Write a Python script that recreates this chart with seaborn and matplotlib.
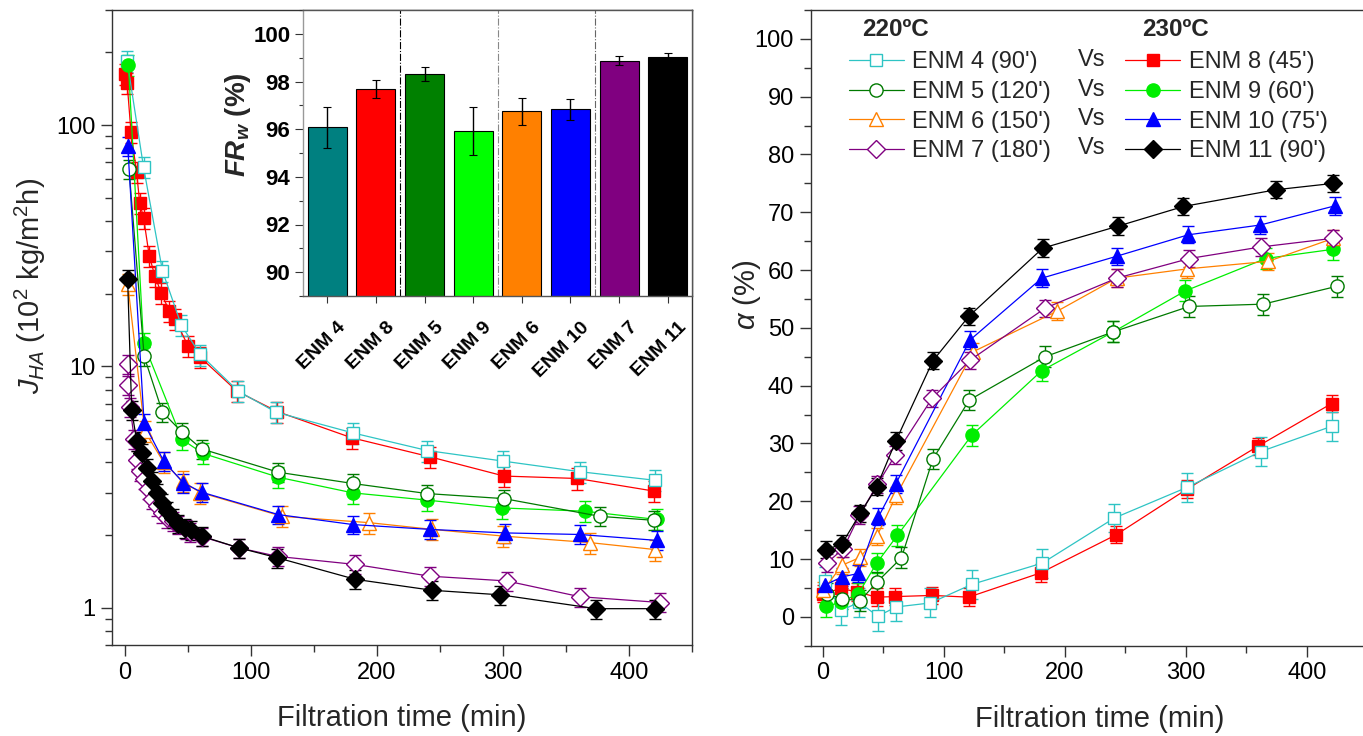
import numpy as np
import pandas as pd
import matplotlib
matplotlib.use("Agg")
import matplotlib.pyplot as plt
import matplotlib.ticker as mticker
from matplotlib.lines import Line2D
from matplotlib.transforms import ScaledTranslation
import seaborn as sns

# ---------------- flux J_HA (10^2 kg/m2h) vs filtration time ----------------
t_j_enm4 = [2, 15, 30, 45, 60, 90, 120, 181, 240, 300, 361, 421]
j_enm4 = [185, 67, 24.9, 14.8, 11.2, 7.9, 6.46, 5.3, 4.48, 4.05, 3.66, 3.37]

t_j_enm8 = [0, 2, 5, 9.5, 12, 15, 19.5, 24, 29, 35.5, 40, 50.5, 60, 89, 121, 180, 242, 301, 359, 420]
j_enm8 = [163, 150, 94, 63.7, 47.5, 41.4, 28.8, 23.7, 20.2, 16.9, 15.7, 12.1, 10.9, 7.9, 6.5,
          5.06, 4.22, 3.51, 3.43, 3.04]

t_j_enm5 = [3.5, 15.5, 30, 45.5, 61, 122, 181, 240, 301, 377, 420]
j_enm5 = [65.7, 11.0, 6.46, 5.34, 4.55, 3.64, 3.27, 2.97, 2.83, 2.39, 2.30]

t_j_enm9 = [3, 15, 45.5, 62, 122, 181, 240, 299, 365, 422]
j_enm9 = [177, 12.5, 4.98, 4.36, 3.47, 2.99, 2.79, 2.59, 2.51, 2.32]

t_j_enm6 = [2.5, 16, 31, 46, 60, 125, 194, 244, 300, 369, 421]
j_enm6 = [21.9, 5.39, 4.0, 3.34, 3.0, 2.39, 2.25, 2.11, 1.98, 1.86, 1.74]

t_j_enm10 = [2.5, 15.5, 31, 46.5, 61, 122, 181, 242, 302, 361, 422]
j_enm10 = [82, 5.8, 4.05, 3.29, 3.01, 2.43, 2.21, 2.11, 2.04, 2.01, 1.90]

t_j_enm7 = [2.4, 3, 4.3, 7.7, 9.6, 12.2, 15, 18.3, 21.5, 25.5, 29.5, 33.4, 38, 42.7, 48.5, 52,
            61, 90.5, 121.5, 183, 242, 303, 361, 425]
j_enm7 = [10.2, 8.4, 6.8, 4.98, 4.11, 3.68, 3.4, 3.09, 2.81, 2.63, 2.47, 2.36, 2.28, 2.21, 2.11,
          2.05, 1.97, 1.77, 1.63, 1.51, 1.35, 1.29, 1.11, 1.05]

t_j_enm11 = [2.4, 5.6, 9.6, 13.5, 17.6, 21.5, 25.5, 29.4, 33.4, 38, 42.7, 47.5, 52.8, 61, 90.5,
             121, 183, 244, 298, 374, 421]
j_enm11 = [23, 6.6, 4.9, 4.36, 3.8, 3.34, 2.99, 2.72, 2.51, 2.36, 2.23, 2.14, 2.09, 1.98, 1.77,
           1.61, 1.31, 1.18, 1.13, 0.99, 0.99]

# relative standard deviation of the flux measurements
j_rel_err = {"ENM 4": 0.10, "ENM 8": 0.10, "ENM 5": 0.09, "ENM 9": 0.10,
             "ENM 6": 0.10, "ENM 10": 0.09, "ENM 7": 0.09, "ENM 11": 0.09}

# ---------------- HA rejection alpha (%) vs filtration time ----------------
t_a_enm4 = [2, 15, 30, 45.5, 60.5, 89, 123, 181.5, 241, 301, 362, 421]
a_enm4 = [6.2, 1.1, 2.5, 0.1, 1.7, 2.4, 5.6, 9.3, 17.1, 22.4, 28.6, 33.0]

t_a_enm8 = [0.5, 15, 28.5, 44.5, 60, 90.5, 120.5, 180, 242.5, 301, 359.5, 420.5]
a_enm8 = [4.0, 4.9, 4.3, 3.4, 3.5, 3.7, 3.4, 7.6, 14.2, 22.1, 29.5, 36.9]

t_a_enm5 = [3.3, 15.7, 31, 44.7, 65, 91, 121, 183.7, 240, 302.7, 364, 425]
a_enm5 = [4.0, 3.1, 2.8, 6.0, 10.2, 27.3, 37.5, 45.0, 49.3, 53.7, 54.1, 57.2]

t_a_enm9 = [2.7, 14.7, 29.4, 44.6, 61.7, 123, 181, 240, 299.7, 366, 422]
a_enm9 = [1.8, 2.5, 4.0, 9.3, 14.1, 31.4, 42.6, 49.3, 56.4, 62.0, 63.6]

t_a_enm6 = [0.5, 15.7, 31, 44.6, 60.7, 124.5, 193.9, 243, 300.8, 368, 422]
a_enm6 = [4.6, 8.9, 10.3, 13.9, 21.0, 45.9, 52.9, 58.6, 60.2, 61.5, 65.5]

t_a_enm10 = [2, 15.7, 29.4, 46, 60.3, 121.7, 181, 243, 302, 361.7, 423]
a_enm10 = [5.5, 6.9, 7.5, 17.3, 23.0, 47.9, 58.6, 62.4, 66.1, 67.8, 71.1]

t_a_enm7 = [3.3, 17, 30.3, 45.1, 60, 90.3, 121.7, 183.7, 243, 303, 362, 422]
a_enm7 = [9.3, 11.8, 17.6, 22.9, 28.0, 37.8, 44.4, 53.4, 58.6, 62.0, 64.0, 65.5]

t_a_enm11 = [2.7, 15.7, 31, 44.6, 60.3, 91, 120.7, 181.8, 244, 298, 374.6, 422]
a_enm11 = [11.6, 12.6, 17.9, 22.5, 30.4, 44.3, 52.0, 63.8, 67.6, 71.0, 73.9, 75.0]

a_err = {"ENM 4": 2.5, "ENM 8": 1.5, "ENM 5": 1.8, "ENM 9": 1.8,
         "ENM 6": 1.5, "ENM 10": 1.5, "ENM 7": 1.5, "ENM 11": 1.5}

# ---------------- flux recovery ratio FRw (%) ----------------
bar_labels = ["ENM 4", "ENM 8", "ENM 5", "ENM 9", "ENM 6", "ENM 10", "ENM 7", "ENM 11"]
frw = [96.08, 97.69, 98.32, 95.93, 96.75, 96.83, 98.88, 99.02]
frw_err = [0.85, 0.37, 0.28, 1.0, 0.57, 0.45, 0.18, 0.18]
bar_colors = ["#008080", "#FF0000", "#008000", "#00FF00", "#FF8000", "#0000FF", "#800080", "#000000"]

legend_220 = ["ENM 4 (90')", "ENM 5 (120')", "ENM 6 (150')", "ENM 7 (180')"]
legend_230 = ["ENM 8 (45')", "ENM 9 (60')", "ENM 10 (75')", "ENM 11 (90')"]

# series styles, in drawing order
series = [
    dict(name="ENM 8", color="#FF0000", marker="s", filled=True, ms=8.5,
         tj=t_j_enm8, j=j_enm8, ta=t_a_enm8, a=a_enm8),
    dict(name="ENM 4", color="#2EC4C4", marker="s", filled=False, ms=8.5,
         tj=t_j_enm4, j=j_enm4, ta=t_a_enm4, a=a_enm4),
    dict(name="ENM 9", color="#00EE00", marker="o", filled=True, ms=9.5,
         tj=t_j_enm9, j=j_enm9, ta=t_a_enm9, a=a_enm9),
    dict(name="ENM 5", color="#007A00", marker="o", filled=False, ms=9.5,
         tj=t_j_enm5, j=j_enm5, ta=t_a_enm5, a=a_enm5),
    dict(name="ENM 6", color="#FF8000", marker="^", filled=False, ms=10,
         tj=t_j_enm6, j=j_enm6, ta=t_a_enm6, a=a_enm6),
    dict(name="ENM 10", color="#0000FF", marker="^", filled=True, ms=10,
         tj=t_j_enm10, j=j_enm10, ta=t_a_enm10, a=a_enm10),
    dict(name="ENM 7", color="#800080", marker="D", filled=False, ms=9,
         tj=t_j_enm7, j=j_enm7, ta=t_a_enm7, a=a_enm7),
    dict(name="ENM 11", color="#000000", marker="D", filled=True, ms=9,
         tj=t_j_enm11, j=j_enm11, ta=t_a_enm11, a=a_enm11),
]
style = {s["name"]: s for s in series}

sns.set_theme(style="ticks")
plt.rcParams.update({
    "font.family": ["Liberation Sans", "DejaVu Sans"],
    "mathtext.fontset": "custom",
    "mathtext.rm": "Liberation Sans",
    "mathtext.it": "Liberation Sans:italic",
    "mathtext.bf": "Liberation Sans:bold",
    "mathtext.bfit": "Liberation Sans:bold:italic",
    "axes.edgecolor": "#333333",
    "axes.linewidth": 1.0,
    "xtick.color": "#333333",
    "ytick.color": "#333333",
    "xtick.labelcolor": "black",
    "ytick.labelcolor": "black",
    "xtick.direction": "out",
    "ytick.direction": "out",
})

W, H = 1363, 736
fig = plt.figure(figsize=(W / 100, H / 100), dpi=100)
fig.patch.set_facecolor("white")

TICK_FS = 17
LABEL_FS = 21


def style_axis(ax):
    ax.tick_params(which="major", length=8, width=1.0, labelsize=TICK_FS, pad=4)
    ax.tick_params(which="minor", length=5, width=1.0)
    ax.tick_params(top=False, right=False, which="both")
    for sp in ax.spines.values():
        sp.set_visible(True)
        sp.set_linewidth(1.0)
        sp.set_color("#333333")


def place_labels(ax, xcoords, ycoords):
    ax.xaxis.label.set_va("center")
    ax.yaxis.label.set_va("center")
    ax.xaxis.set_label_coords(*xcoords)
    ax.yaxis.set_label_coords(*ycoords)


def draw_series(ax, s, x, y, yerr):
    mfc = s["color"] if s["filled"] else "white"
    ax.errorbar(x, y, yerr=yerr, fmt="none", ecolor=s["color"], elinewidth=1.0,
                capsize=4.5, capthick=1.0, zorder=2)
    sns.lineplot(x=x, y=y, ax=ax, color=s["color"], linewidth=0.9, marker=s["marker"],
                 markersize=s["ms"], markerfacecolor=mfc, markeredgecolor=s["color"],
                 markeredgewidth=1.0, estimator=None, sort=False, legend=False, zorder=3)


# ---------------- left panel: flux ----------------
ax1 = fig.add_axes([112 / W, (H - 645) / H, 580 / W, 635 / H])
for s in series:
    j = np.asarray(s["j"], dtype=float)
    rel = j_rel_err[s["name"]]
    draw_series(ax1, s, s["tj"], j, rel * j)
ax1.set_yscale("log")
ax1.set_xlim(-10, 450)
ax1.set_ylim(0.7, 300)
ax1.xaxis.set_major_locator(mticker.MultipleLocator(100))
ax1.xaxis.set_minor_locator(mticker.MultipleLocator(50))
ax1.yaxis.set_major_locator(mticker.FixedLocator([1, 10, 100]))
ax1.yaxis.set_major_formatter(mticker.FuncFormatter(lambda v, p: f"{v:g}"))
ax1.yaxis.set_minor_locator(mticker.LogLocator(base=10, subs=np.arange(2, 10)))
ax1.yaxis.set_minor_formatter(mticker.NullFormatter())
style_axis(ax1)
ax1.set_xlabel("Filtration time (min)", fontsize=LABEL_FS)
ax1.set_ylabel(r"$J_{HA}$ (10$^{2}$ kg/m$^{2}$h)", fontsize=LABEL_FS)
place_labels(ax1, (0.5, -0.115), (-0.141, 0.565))

# ---------------- inset: flux recovery ----------------
axin = fig.add_axes([303 / W, (H - 296) / H, 389 / W, 286 / H])
axin.set_facecolor("white")
bar_df = pd.DataFrame({"membrane": bar_labels, "frw": frw})
sns.barplot(data=bar_df, x="membrane", y="frw", hue="membrane", palette=bar_colors,
            saturation=1, legend=False, width=0.8, edgecolor="black", linewidth=0.8,
            errorbar=None, ax=axin, zorder=2)
axin.errorbar(np.arange(len(frw)), frw, yerr=frw_err, fmt="none", ecolor="black",
              elinewidth=1.0, capsize=3, capthick=0.8, zorder=4)
for xs, c in zip([1.5, 3.5, 5.5], ["black", "#888888", "#666666"]):
    axin.axvline(xs, color=c, linestyle="-.", linewidth=0.8, zorder=1)
axin.set_xlim(-0.5, 7.5)
axin.set_ylim(89, 101)
axin.yaxis.set_major_locator(mticker.MultipleLocator(2))
axin.yaxis.set_minor_locator(mticker.MultipleLocator(1))
axin.tick_params(which="major", length=6, width=0.8, pad=3)
axin.tick_params(which="minor", length=3, width=0.8)
axin.tick_params(axis="y", labelsize=16)
axin.tick_params(axis="x", labelsize=14, length=5)
for sp in axin.spines.values():
    sp.set_visible(True)
    sp.set_color("#555555")
    sp.set_linewidth(1.0)
axin.spines["left"].set_color("#999999")
axin.set_xlabel("")
axin.set_ylabel(r"$\mathbfit{FR}_{\mathbfit{w}}$ (%)", fontsize=20, fontweight="bold")
axin.yaxis.label.set_va("center")
axin.yaxis.set_label_coords(-0.167, 0.6)
for lab in axin.get_yticklabels():
    lab.set_fontweight("bold")
axin.set_xticks(np.arange(len(bar_labels)))
axin.set_xticklabels(bar_labels, rotation=45, ha="right", va="top",
                     rotation_mode="anchor", fontweight="bold", fontsize=14)
shift = ScaledTranslation(10 / 100, -12 / 100, fig.dpi_scale_trans)
for lab in axin.get_xticklabels():
    lab.set_transform(lab.get_transform() + shift)

# ---------------- right panel: rejection ----------------
ax2 = fig.add_axes([810.7 / W, (H - 645.7) / H, 556.6 / W, 635.7 / H])
for s in series:
    a = np.asarray(s["a"], dtype=float)
    draw_series(ax2, s, s["ta"], a, np.full(a.shape, a_err[s["name"]]))
ax2.set_xlim(-10, 450)
ax2.set_ylim(-5, 105)
ax2.xaxis.set_major_locator(mticker.MultipleLocator(100))
ax2.xaxis.set_minor_locator(mticker.MultipleLocator(50))
ax2.yaxis.set_major_locator(mticker.MultipleLocator(10))
ax2.yaxis.set_minor_locator(mticker.MultipleLocator(5))
style_axis(ax2)
ax2.set_xlabel("Filtration time (min)", fontsize=LABEL_FS)
ax2.set_ylabel(r"$\alpha$ (%)", fontsize=LABEL_FS)
place_labels(ax2, (0.52, -0.115), (-0.114, 0.552))


def handle_for(name):
    s = style[name]
    mfc = s["color"] if s["filled"] else "white"
    return Line2D([], [], color=s["color"], linewidth=0.9, marker=s["marker"],
                  markersize=s["ms"], markerfacecolor=mfc, markeredgecolor=s["color"])


LEG_FS = 17
leg_kw = dict(loc="upper left", frameon=False, fontsize=LEG_FS, numpoints=1,
              handlelength=2.35, handletextpad=0.35, labelspacing=0.33,
              borderpad=0, borderaxespad=0, bbox_transform=fig.transFigure)
leg1 = ax2.legend([handle_for(n) for n in ["ENM 4", "ENM 5", "ENM 6", "ENM 7"]], legend_220,
                  bbox_to_anchor=(848.7 / W, 1 - 51 / H), **leg_kw)
ax2.add_artist(leg1)
leg2 = ax2.legend([handle_for(n) for n in ["ENM 8", "ENM 9", "ENM 10", "ENM 11"]], legend_230,
                  bbox_to_anchor=(1125 / W, 1 - 51 / H), **leg_kw)

fig.text(862.5 / W, 1 - 30 / H, "220ºC", fontsize=17.5, fontweight="bold",
         ha="left", va="center")
fig.text(1142 / W, 1 - 30 / H, "230ºC", fontsize=17.5, fontweight="bold",
         ha="left", va="center")
for yrow in [60, 89.5, 119, 148.5]:
    fig.text(1078 / W, 1 - yrow / H, "Vs", fontsize=LEG_FS, ha="left", va="center")

fig.savefig("out.png", dpi=100, facecolor="white")
